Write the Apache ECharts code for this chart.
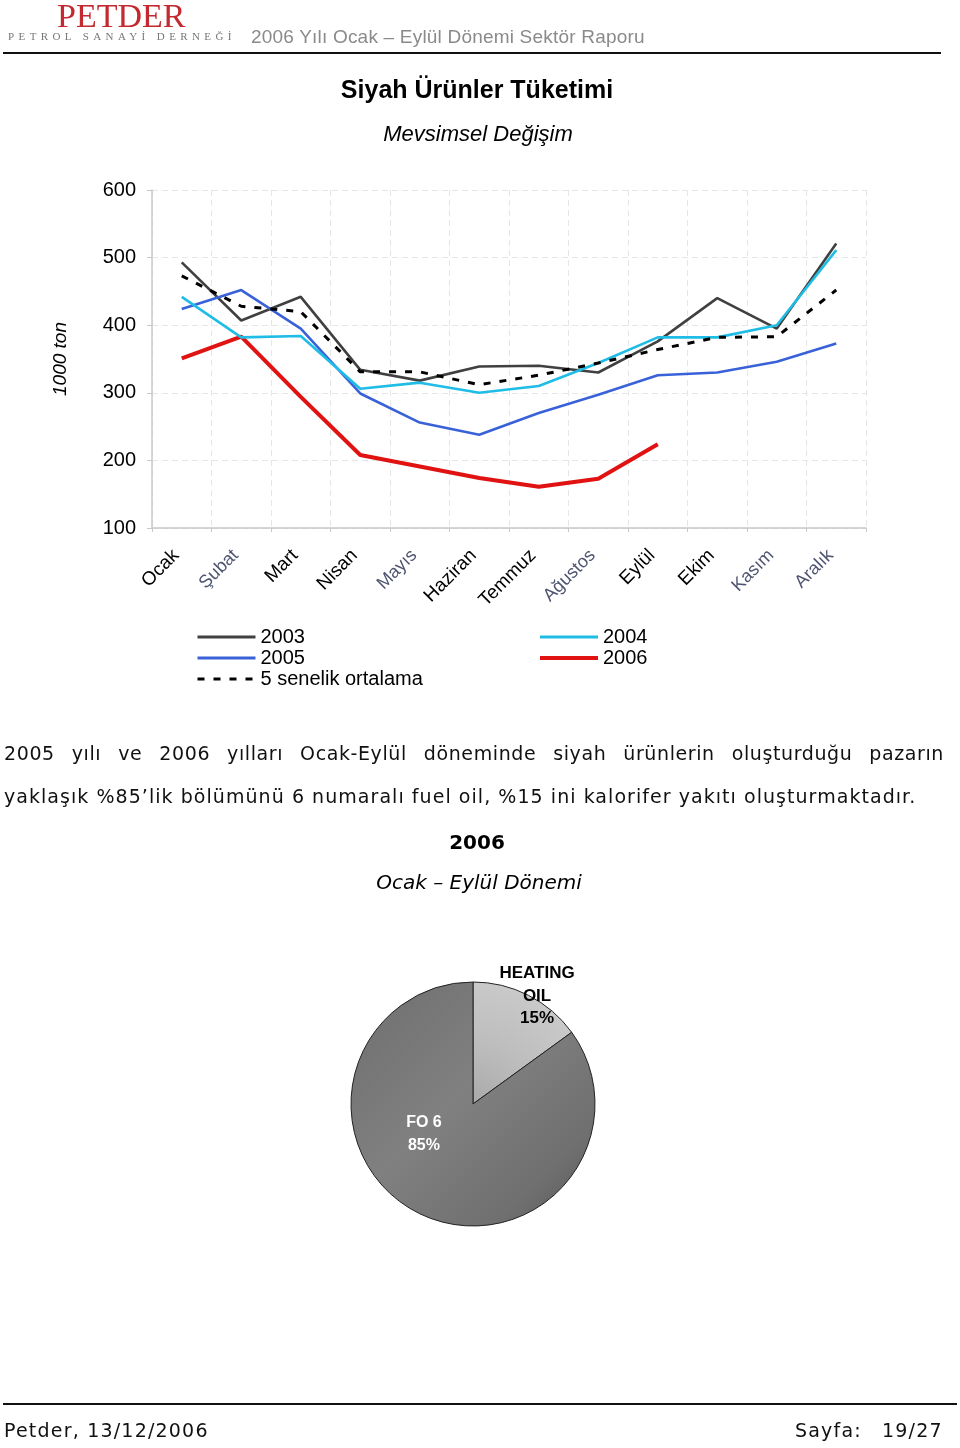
<!DOCTYPE html>
<html><head><meta charset="utf-8">
<script src="https://cdn.jsdelivr.net/npm/echarts@6/dist/echarts.min.js"></script>
<style>
html,body{margin:0;padding:0;background:#fff}
#page{position:relative;width:960px;height:1448px;overflow:hidden}
#c{position:absolute;left:0;top:0;width:960px;height:1448px}
.abs{position:absolute;white-space:nowrap}
#logo{left:57px;top:-3px;font:34px "Liberation Serif",serif;color:#c22a30}
#logosub{left:8px;top:30px;font:11px "Liberation Serif",serif;color:#777;letter-spacing:4.4px}
#hdr{left:251px;top:26px;font:19px "Liberation Sans",Arial,sans-serif;color:#8a8a8a;letter-spacing:0.2px}
#hline{left:3px;top:52px;width:938px;height:2px;background:#111}
#p1{left:4px;top:742px;width:940px;font:19px "DejaVu Sans",sans-serif;color:#111;text-align:justify;text-align-last:justify;letter-spacing:0.6px}
#p2{left:4px;top:785px;font:19px "DejaVu Sans",sans-serif;color:#111;letter-spacing:1.05px}
#fline{left:3px;top:1403px;width:954px;height:2px;background:#111}
.foot{top:1419px;font:19px "DejaVu Sans",sans-serif;color:#111;letter-spacing:1.2px}
</style>
</head><body>
<div id="page">
<div id="c"></div>
<div class="abs" id="logo">PETDER</div>
<div class="abs" id="logosub">PETROL SANAYİ DERNEĞİ</div>
<div class="abs" id="hdr">2006 Yılı Ocak – Eylül Dönemi Sektör Raporu</div>
<div class="abs" id="hline"></div>
<div class="abs" id="p1">2005 yılı ve 2006 yılları Ocak-Eylül döneminde siyah ürünlerin oluşturduğu pazarın</div>
<div class="abs" id="p2">yaklaşık %85’lik bölümünü 6 numaralı fuel oil, %15 ini kalorifer yakıtı oluşturmaktadır.</div>
<div class="abs" id="fline"></div>
<div class="abs foot" style="left:4px">Petder, 13/12/2006</div>
<div class="abs foot" style="left:795px">Sayfa:</div>
<div class="abs foot" style="left:882px">19/27</div>
</div>
<script>
const months = ['Ocak','Şubat','Mart','Nisan','Mayıs','Haziran','Temmuz','Ağustos','Eylül','Ekim','Kasım','Aralık'];
const fadedMonths = ['Şubat','Mayıs','Ağustos','Kasım','Aralık'];
const y2003 = [493,407,442,334,318,339,340,330,376,440,395,521];
const y2004 = [442,382,384,306,315,300,310,344,382,382,400,511];
const y2005 = [424,452,395,299,256,238,270,297,326,330,346,373];
const y2006 = [351,383,294,208,191,174,161,173,224];
const avg5 = [473,428,420,331,331,312,326,344,364,382,383,452];
const yMin = 100, yMax = 600, yStep = 100;
const pieNames = ['HEATING\nOIL','FO 6'];
const pieValues = [15,85];

const chart = echarts.init(document.getElementById('c'), null, {renderer:'canvas'});
const sans = '"Liberation Sans", Arial, sans-serif';
const pc = [473,1104], pr = 122;
const lg = (n, w) => ({name:n, lineStyle:{width:w}});

const option = {
  backgroundColor:'#fff',
  animation:false,
  textStyle:{fontFamily:sans},
  title:[
    {text:'Siyah Ürünler Tüketimi', left:472, top:74, textAlign:'center',
     textStyle:{fontSize:25,fontWeight:'bold',color:'#000',fontFamily:sans}},
    {text:'Mevsimsel Değişim', left:473, top:119, textAlign:'center',
     textStyle:{fontSize:22,fontStyle:'italic',fontWeight:'normal',color:'#000',fontFamily:sans}},
    {text:'2006', left:472, top:829, textAlign:'center',
     textStyle:{fontSize:20,fontWeight:'bold',color:'#000',fontFamily:'"DejaVu Sans", sans-serif'}},
    {text:'Ocak – Eylül Dönemi', left:474, top:869, textAlign:'center',
     textStyle:{fontSize:20,fontStyle:'italic',fontWeight:'normal',color:'#000',fontFamily:'"DejaVu Sans", sans-serif'}}
  ],
  legend:[
    {data:[lg('2003',3),lg('2005',3),lg('5 senelik ortalama',3)], orient:'vertical', left:196, top:627,
     itemWidth:58, itemHeight:12, itemGap:1, padding:0, itemStyle:{opacity:0},
     textStyle:{fontSize:20,color:'#000',fontFamily:sans}},
    {data:[lg('2004',3),lg('2006',4)], orient:'vertical', left:538, top:627,
     itemWidth:58, itemHeight:12, itemGap:1, padding:0, itemStyle:{opacity:0},
     textStyle:{fontSize:20,color:'#000',fontFamily:sans}}
  ],
  grid:{left:152, right:94, top:190, bottom:920, containLabel:false},
  xAxis:{
    type:'category', data:months, boundaryGap:true,
    axisLine:{lineStyle:{color:'#c8c8c8',width:1.5}},
    axisTick:{show:true,length:4,lineStyle:{color:'#c8c8c8'}},
    splitLine:{show:true,lineStyle:{color:'#e6e6e6',type:[6,4]}},
    axisLabel:{rotate:45, margin:19, interval:0,
      formatter:function(v){return fadedMonths.indexOf(v)>=0 ? '{f|'+v+'}' : '{n|'+v+'}';},
      rich:{n:{fontSize:19,color:'#000',fontFamily:sans,padding:[0,8,0,0]},
            f:{fontSize:18,color:'#4f5470',fontFamily:sans,padding:[0,8,0,0]}}}
  },
  yAxis:{
    type:'value', min:yMin, max:yMax, interval:yStep,
    name:'1000 ton', nameLocation:'middle', nameGap:82, nameRotate:90,
    nameTextStyle:{fontSize:19,fontStyle:'italic',color:'#000',fontFamily:sans},
    axisLine:{show:true,lineStyle:{color:'#c8c8c8',width:1.5}},
    axisTick:{show:true,length:5,lineStyle:{color:'#c8c8c8'}},
    splitLine:{show:true,lineStyle:{color:'#e6e6e6',type:[6,4]}},
    axisLabel:{fontSize:20,color:'#000',margin:16,fontFamily:sans}
  },
  series:[
    {name:'2003', type:'line', data:y2003, symbol:'none', z:3,
     lineStyle:{color:'#404040',width:2.6}, itemStyle:{color:'#404040'}},
    {name:'2004', type:'line', data:y2004, symbol:'none', z:4,
     lineStyle:{color:'#1fbde6',width:2.6}, itemStyle:{color:'#1fbde6'}},
    {name:'2005', type:'line', data:y2005, symbol:'none', z:3,
     lineStyle:{color:'#3a62d8',width:2.6}, itemStyle:{color:'#3a62d8'}},
    {name:'2006', type:'line', data:y2006, symbol:'none', z:3,
     lineStyle:{color:'#e01212',width:4}, itemStyle:{color:'#e01212'}},
    {name:'5 senelik ortalama', type:'line', data:avg5, symbol:'none', z:5,
     lineStyle:{color:'#000',width:3,type:[7,9]}, itemStyle:{color:'#000'}},
    {name:'pie', type:'pie', center:pc, radius:[0,pr], startAngle:90, clockwise:true,
     avoidLabelOverlap:false, silent:true,
     itemStyle:{borderColor:'#222',borderWidth:1},
     labelLine:{show:false},
     data:[
       {name:pieNames[0], value:pieValues[0],
        itemStyle:{color:{type:'radial',x:pc[0],y:pc[1],r:pr,global:true,colorStops:[{offset:0,color:'#a9a9a9'},{offset:0.5,color:'#bdbdbd'},{offset:1,color:'#c9c9c9'}]}},
        label:{show:true,position:'inside',offset:[35,-51],formatter:'{b}\n{d}%',
               fontSize:17,fontWeight:'bold',color:'#000',lineHeight:22.5,fontFamily:sans}},
       {name:pieNames[1], value:pieValues[1],
        itemStyle:{color:{type:'linear',x:pc[0]-pr,y:pc[1]-pr,x2:pc[0]+pr,y2:pc[1]+pr,global:true,colorStops:[{offset:0,color:'#6e6e6e'},{offset:0.45,color:'#808080'},{offset:0.8,color:'#6f6f6f'},{offset:1,color:'#555'}]}},
        label:{show:true,position:'inside',offset:[-20,-27],formatter:'{b}\n{d}%',
               fontSize:16,fontWeight:'bold',color:'#fff',lineHeight:22.5,fontFamily:sans}}
     ]}
  ]
};
chart.setOption(option);
</script>
</body></html>
